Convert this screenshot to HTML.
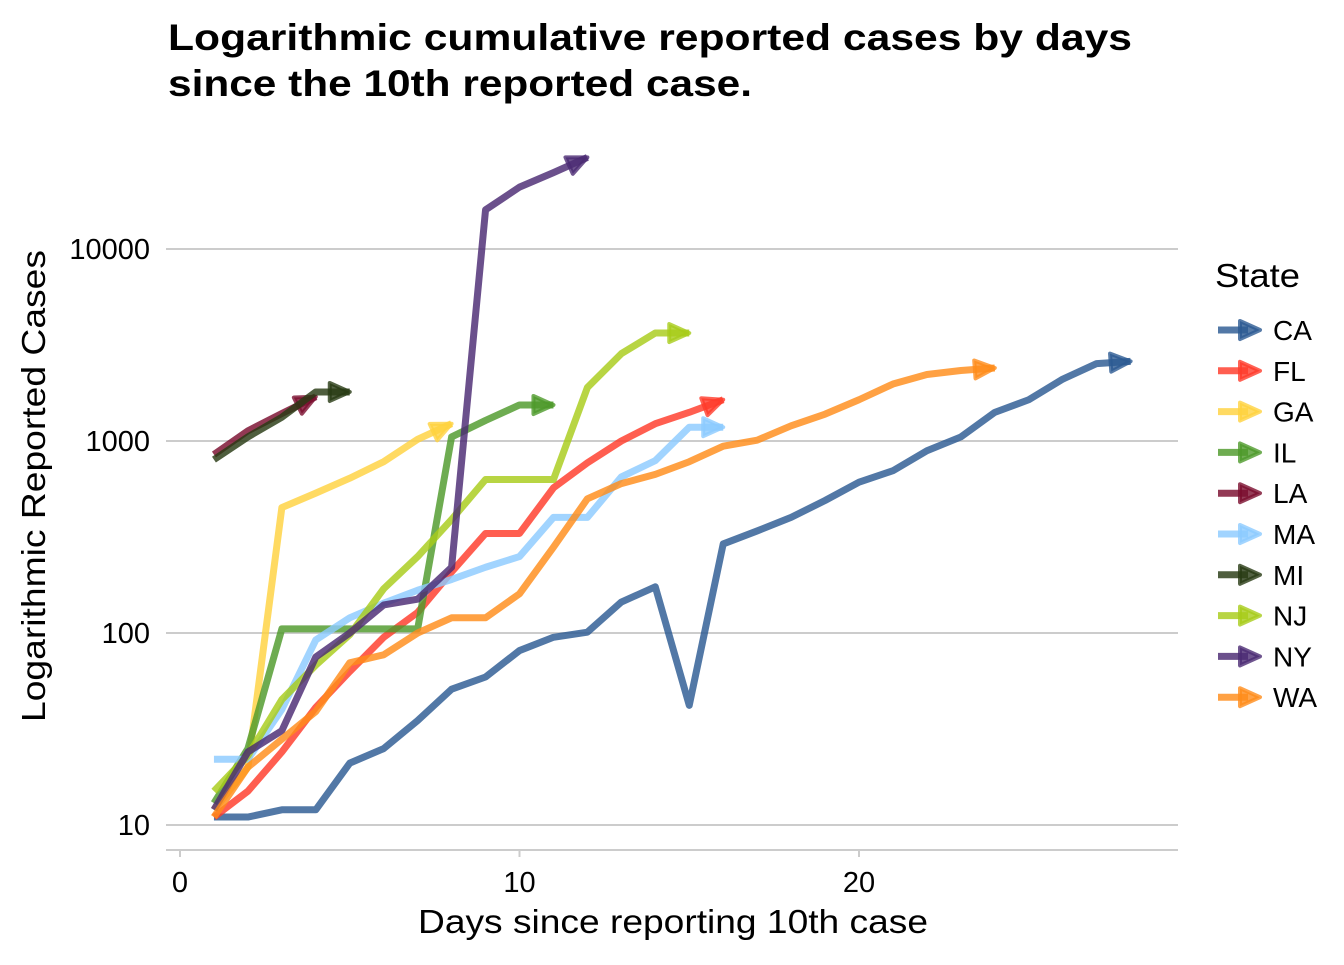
<!DOCTYPE html>
<html><head><meta charset="utf-8"><style>
body{margin:0;background:#fff;font-family:"Liberation Sans",Arial,sans-serif}
svg text{font-family:"Liberation Sans",Arial,sans-serif}
</style></head><body>
<svg id="chart" width="1344" height="960" xmlns="http://www.w3.org/2000/svg">
<text x="168" y="50" font-size="37" font-weight="bold" textLength="964" lengthAdjust="spacingAndGlyphs">Logarithmic cumulative reported cases by days</text>
<text x="168" y="96" font-size="37" font-weight="bold" textLength="584" lengthAdjust="spacingAndGlyphs">since the 10th reported case.</text>
<g id="grid"></g><g id="series"></g><g id="legend"></g>
<text x="418" y="933" font-size="33" textLength="510" lengthAdjust="spacingAndGlyphs">Days since reporting 10th case</text>
<text transform="translate(45,486) rotate(-90)" font-size="33" text-anchor="middle" textLength="472" lengthAdjust="spacingAndGlyphs">Logarithmic Reported Cases</text>
<text x="1215" y="287" font-size="33" textLength="85" lengthAdjust="spacingAndGlyphs">State</text>
</svg>
<script>
const states=["CA","FL","GA","IL","LA","MA","MI","NJ","NY","WA"];
const colors=["#2c5a92","#ff3b2a","#ffd23f","#4e9a2b","#7a0e2e","#8ccaff","#283b14","#a8cc1a","#4b2a73","#ff8c1a"];
const startDays=[1,1,1,1,1,1,1,1,1,1];
const CA=[11,11,12,12,21,25,35,51,59,81,95,101,145,174,42,291,340,400,490,610,700,890,1050,1410,1640,2100,2530,2600];
const FL=[11,15,24,41,63,95,128,208,330,330,570,770,1000,1230,1410,1640];
const GA=[12,20,450,535,640,780,1020,1230];
const IL=[13,25,105,105,105,105,105,1050,1280,1540,1540];
const LA=[850,1130,1390,1700];
const MA=[22,22,40,92,120,143,167,190,220,250,400,400,650,790,1180,1180];
const MI=[800,1050,1330,1800,1800];
const NJ=[15,23,45,68,98,170,250,390,630,630,630,1900,2850,3650,3650];
const NY=[12,24,31,75,100,140,150,220,16000,21000,25000,30000];
const WA=[11,20,28,39,70,77,100,120,120,160,280,500,600,670,780,940,1010,1200,1380,1640,1980,2220,2330,2400];
const seriesVals=[CA,FL,GA,IL,LA,MA,MI,NJ,NY,WA];
const xTicks=[0,10,20];
const yTicks=[10,100,1000,10000];
const xs=d=>180+d*33.95;
const ys=v=>825-(Math.log10(v)-1)*192;
const NS="http://www.w3.org/2000/svg";
function mk(t,a,p){const e=document.createElementNS(NS,t);for(const k in a)e.setAttribute(k,a[k]);p.appendChild(e);return e;}
const grid=document.getElementById('grid');
yTicks.forEach(v=>{
 const l=mk('line',{x1:166,x2:1178,y1:ys(v),y2:ys(v),stroke:'#cccccc','stroke-width':2},grid);
 
 
 const t=mk('text',{x:150,y:ys(v)+10,'font-size':29,'text-anchor':'end'},grid);t.textContent=v;
 
 
});
const ax=mk('line',{x1:166,x2:1178,y1:850,y2:850,stroke:'#cccccc','stroke-width':2},grid);


xTicks.forEach(d=>{
 const tk=mk('line',{x1:xs(d),x2:xs(d),y1:850,y2:857,stroke:'#cccccc','stroke-width':2},grid);
 
 
 const t=mk('text',{x:xs(d),y:892,'font-size':29,'text-anchor':'middle'},grid);t.textContent=d;
 
 
});
const sg=document.getElementById('series');
const lg=document.getElementById('legend');
function arrow(x,y,ang,c,p){
 const L=20,W=9,ca=Math.cos(ang),sa=Math.sin(ang);
 const bx=x-L*ca,by=y-L*sa;
 const pts=[[x,y],[bx-W*sa,by+W*ca],[bx+W*sa,by-W*ca]].map(q=>q.join(',')).join(' ');
 return mk('polygon',{points:pts,fill:c,stroke:c,'stroke-width':4,'stroke-linejoin':'round','stroke-opacity':0.8,'fill-opacity':0.8},p);
}
states.forEach((s,i)=>{
 const vals=seriesVals[i],c=colors[i];
 const pts=vals.map((v,j)=>[xs(startDays[i]+j),ys(v)]);
 const g=mk('g',{},sg);
 
 
 const pl=mk('polyline',{points:pts.map(p=>p.join(',')).join(' '),fill:'none',stroke:c,'stroke-width':7,'stroke-opacity':0.82,'stroke-linejoin':'round'},g);
 
 
 const a=pts[pts.length-1],b=pts[pts.length-2];
 const ar=arrow(a[0],a[1],Math.atan2(a[1]-b[1],a[0]-b[0]),c,g);
 
 
 const y=330+i*40.8;
 const le=mk('g',{},lg);
 
 
 mk('line',{x1:1218,x2:1248,y1:y,y2:y,stroke:c,'stroke-width':7,'stroke-opacity':0.82},le);
 arrow(1260,y,0,c,le);
 const t=mk('text',{x:1273,y:y+10,'font-size':28},le);t.textContent=s;
});
</script>
</body></html>
